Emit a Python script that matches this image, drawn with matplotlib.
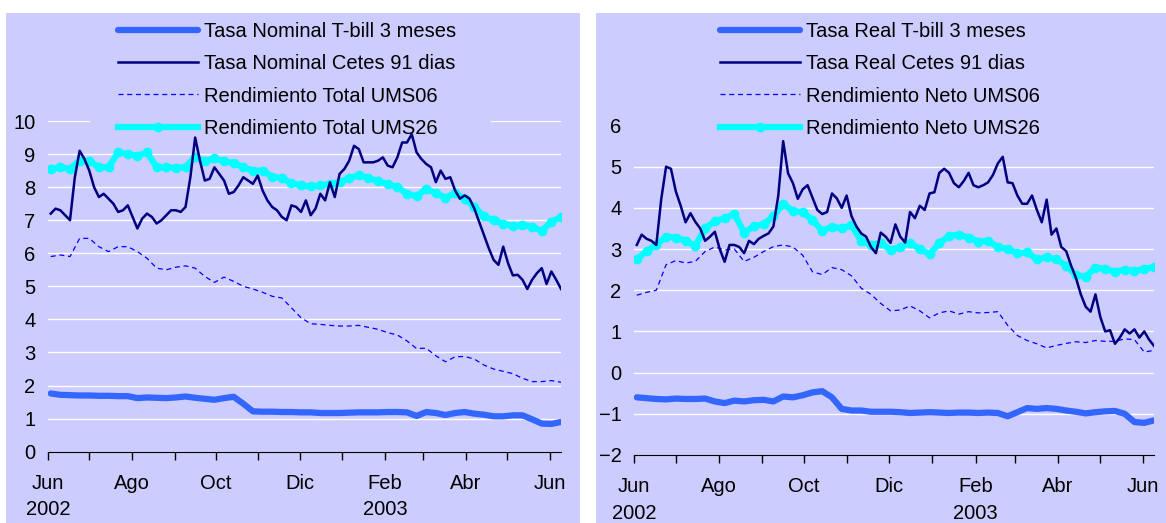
import matplotlib
matplotlib.use("Agg")
import matplotlib.pyplot as plt
import pandas as pd
from matplotlib.patches import Rectangle

plt.rcParams['font.family'] = ['Liberation Sans', 'DejaVu Sans']

# weekly observations, Jun 2002 - Jun 2003
fechas = pd.date_range('2002-06-03', periods=54, freq='7D')
# Cetes series are read twice a week (107 points over the same span)
fechas_cetes = pd.date_range('2002-06-03', '2003-06-09', periods=107)

# left panel: nominal rates
tbill_nom = [1.76, 1.72, 1.71, 1.70, 1.70, 1.69, 1.69, 1.68, 1.68, 1.62,
             1.64, 1.63, 1.62, 1.64, 1.67, 1.63, 1.60, 1.57, 1.62, 1.66,
             1.45, 1.22, 1.21, 1.21, 1.20, 1.20, 1.19, 1.19, 1.17, 1.17,
             1.17, 1.18, 1.19, 1.19, 1.19, 1.20, 1.20, 1.19, 1.08, 1.20,
             1.17, 1.11, 1.17, 1.20, 1.15, 1.12, 1.07, 1.07, 1.10, 1.10,
             0.98, 0.85, 0.84, 0.90]
cetes_nom = [7.20, 7.35, 7.30, 7.15, 7.00, 8.30, 9.10, 8.85, 8.50, 8.00,
             7.70, 7.80, 7.65, 7.50, 7.25, 7.30, 7.45, 7.10, 6.75, 7.05,
             7.20, 7.10, 6.90, 7.00, 7.15, 7.30, 7.30, 7.25, 7.40, 8.30,
             9.50, 8.80, 8.20, 8.25, 8.60, 8.40, 8.20, 7.80, 7.85, 8.05,
             8.30, 8.20, 8.10, 8.35, 7.90, 7.60, 7.40, 7.30, 7.10, 7.00,
             7.45, 7.40, 7.25, 7.60, 7.15, 7.35, 7.80, 7.60, 8.15, 7.70,
             8.40, 8.55, 8.80, 9.25, 9.15, 8.75, 8.75, 8.75, 8.80, 8.90,
             8.65, 8.60, 8.90, 9.35, 9.35, 9.60, 9.05, 8.85, 8.70, 8.60,
             8.15, 8.50, 8.25, 8.30, 7.90, 7.65, 7.75, 7.65, 7.35, 6.95,
             6.55, 6.15, 5.80, 5.65, 6.20, 5.70, 5.33, 5.35, 5.20, 4.92,
             5.20, 5.40, 5.55, 5.07, 5.45, 5.20, 4.92]
ums06_tot = [5.90, 5.95, 5.90, 6.45, 6.45, 6.20, 6.05, 6.20, 6.20, 6.05,
             5.85, 5.55, 5.50, 5.58, 5.62, 5.55, 5.30, 5.12, 5.28, 5.15,
             5.00, 4.92, 4.82, 4.70, 4.65, 4.35, 4.05, 3.87, 3.85, 3.82,
             3.80, 3.80, 3.82, 3.76, 3.70, 3.60, 3.53, 3.35, 3.12, 3.13,
             2.90, 2.72, 2.87, 2.88, 2.80, 2.62, 2.50, 2.43, 2.36, 2.22,
             2.12, 2.12, 2.15, 2.10]
ums26_tot = [8.55, 8.60, 8.55, 8.80, 8.80, 8.60, 8.60, 9.05, 9.00, 8.95,
             9.05, 8.60, 8.60, 8.58, 8.60, 8.92, 8.78, 8.87, 8.78, 8.73,
             8.60, 8.50, 8.50, 8.32, 8.27, 8.12, 8.05, 8.02, 8.05, 8.10,
             8.15, 8.27, 8.36, 8.28, 8.18, 8.10, 8.00, 7.80, 7.72, 7.95,
             7.82, 7.68, 7.82, 7.65, 7.40, 7.12, 7.00, 6.90, 6.82, 6.86,
             6.80, 6.68, 6.95, 7.10]

# right panel: real rates
tbill_real = [-0.60, -0.62, -0.64, -0.65, -0.63, -0.64, -0.64, -0.63, -0.70, -0.74,
              -0.68, -0.70, -0.67, -0.66, -0.70, -0.58, -0.60, -0.55, -0.48, -0.45,
              -0.60, -0.88, -0.92, -0.92, -0.95, -0.95, -0.95, -0.96, -0.98, -0.97,
              -0.96, -0.97, -0.98, -0.97, -0.97, -0.98, -0.97, -0.98, -1.06, -0.96,
              -0.86, -0.88, -0.86, -0.88, -0.92, -0.95, -0.99, -0.96, -0.94, -0.93,
              -1.00, -1.20, -1.22, -1.16]
cetes_real = [3.10, 3.35, 3.25, 3.20, 3.10, 4.20, 5.00, 4.95, 4.40, 4.05,
              3.65, 3.87, 3.66, 3.50, 3.20, 3.30, 3.42, 3.00, 2.69, 3.10,
              3.10, 3.05, 2.90, 3.20, 3.12, 3.25, 3.32, 3.38, 3.55, 4.30,
              5.62, 4.84, 4.60, 4.22, 4.45, 4.55, 4.25, 3.95, 3.85, 3.90,
              4.35, 4.23, 4.00, 4.30, 3.80, 3.55, 3.38, 3.30, 3.05, 2.90,
              3.40, 3.30, 3.15, 3.60, 3.30, 3.16, 3.90, 3.75, 4.05, 3.95,
              4.35, 4.38, 4.85, 4.95, 4.85, 4.60, 4.50, 4.65, 4.85, 4.55,
              4.50, 4.55, 4.62, 4.80, 5.08, 5.24, 4.62, 4.60, 4.30, 4.10,
              4.10, 4.30, 3.95, 3.65, 4.20, 3.35, 3.50, 3.05, 2.95, 2.60,
              2.30, 1.90, 1.60, 1.48, 1.90, 1.35, 1.00, 1.03, 0.70, 0.85,
              1.05, 0.95, 1.05, 0.85, 1.00, 0.80, 0.65]
ums06_neto = [1.88, 1.95, 2.00, 2.62, 2.72, 2.66, 2.70, 2.94, 3.05, 2.98,
              3.00, 2.70, 2.80, 2.94, 3.06, 3.10, 3.05, 2.85, 2.45, 2.38,
              2.55, 2.50, 2.35, 2.05, 1.90, 1.68, 1.50, 1.52, 1.62, 1.50,
              1.33, 1.45, 1.50, 1.42, 1.48, 1.45, 1.46, 1.48, 1.15, 0.90,
              0.78, 0.70, 0.60, 0.66, 0.71, 0.75, 0.73, 0.78, 0.76, 0.76,
              0.82, 0.80, 0.50, 0.54]
ums26_neto = [2.75, 2.95, 3.10, 3.30, 3.28, 3.20, 3.08, 3.50, 3.68, 3.75,
              3.85, 3.40, 3.55, 3.60, 3.80, 4.10, 3.92, 3.90, 3.70, 3.45,
              3.54, 3.50, 3.58, 3.20, 3.10, 3.15, 2.98, 3.05, 3.15, 3.00,
              2.88, 3.14, 3.32, 3.35, 3.28, 3.18, 3.20, 3.05, 3.00, 2.90,
              2.92, 2.75, 2.80, 2.75, 2.60, 2.37, 2.33, 2.55, 2.52, 2.45,
              2.50, 2.47, 2.52, 2.56]

meses = pd.date_range('2002-06-01', '2003-06-01', freq='MS')
etiquetas = ['Jun\n2002', '', 'Ago', '', 'Oct', '', 'Dic', '', 'Feb\n2003', '', 'Abr', '', 'Jun']

fondo = '#CCCCFF'
c_tbill = '#3366FF'
c_cetes = '#000080'
c_ums06 = '#0000FF'
c_ums26 = '#00FFFF'
fs = 14.5

fig = plt.figure(figsize=(11.66, 5.23), dpi=100, facecolor='white')
fig.patches.append(Rectangle((6 / 1166, 0), 574 / 1166, 510 / 523, transform=fig.transFigure,
                             facecolor=fondo, edgecolor='none', zorder=-10))
fig.patches.append(Rectangle((596 / 1166, 0), 570 / 1166, 510 / 523, transform=fig.transFigure,
                             facecolor=fondo, edgecolor='none', zorder=-10))


def panel(rect, series, nombres, ylim, legx, top_grid):
    ax = fig.add_axes(rect)
    ax.set_facecolor(fondo)
    tb, ce, u06, u26 = series
    ax.plot(fechas, tb, color=c_tbill, lw=4.5, solid_capstyle='round', label=nombres[0], zorder=3)
    ax.plot(fechas_cetes, ce, color=c_cetes, lw=1.8, label=nombres[1], zorder=4)
    ax.plot(fechas, u06, color=c_ums06, lw=0.9, dashes=(4, 3), label=nombres[2], zorder=3)
    ax.plot(fechas, u26, color=c_ums26, lw=4.5, marker='o', ms=6, label=nombres[3], zorder=3)

    lo, hi = ylim
    ax.set_ylim(lo, hi)
    ax.set_yticks(range(lo, hi + 1))
    for v in range(lo + 1, hi):
        ax.axhline(v, color='white', lw=1, zorder=1)
    if top_grid:
        # top gridline is hidden behind the legend in the middle
        ax.axhline(hi, xmin=0, xmax=0.08, color='white', lw=1, zorder=1)
        ax.axhline(hi, xmin=0.864, xmax=1, color='white', lw=1, zorder=1)
    ax.tick_params(axis='y', length=0, labelsize=fs, pad=9)

    ax.set_xlim(pd.Timestamp('2002-06-01'), pd.Timestamp('2003-06-09'))
    ax.set_xticks(meses)
    ax.set_xticklabels(etiquetas)
    ax.tick_params(axis='x', direction='out', length=6, width=1, labelsize=fs, pad=10)
    for lab in ax.get_xticklabels():
        lab.set_linespacing(1.5)

    for s in ['top', 'right', 'left']:
        ax.spines[s].set_visible(False)
    ax.spines['bottom'].set_color('black')

    leg = ax.legend(loc='upper center', bbox_to_anchor=(legx, 0.985), bbox_transform=fig.transFigure,
                    frameon=False, fontsize=fs, handlelength=4.0, handletextpad=0.3,
                    labelspacing=0.66, numpoints=1, borderpad=0.2)
    leg.set_zorder(5)
    return ax


panel([48 / 1166, 1 - 451.7 / 523, 513 / 1166, 330.7 / 523],
      (tbill_nom, cetes_nom, ums06_tot, ums26_tot),
      ['Tasa Nominal T-bill 3 meses', 'Tasa Nominal Cetes 91 dias',
       'Rendimiento Total UMS06', 'Rendimiento Total UMS26'],
      (0, 10), 287 / 1166, True)

panel([634 / 1166, 1 - 455 / 523, 520 / 1166, 329.5 / 523],
      (tbill_real, cetes_real, ums06_neto, ums26_neto),
      ['Tasa Real T-bill 3 meses', 'Tasa Real Cetes 91 dias',
       'Rendimiento Neto UMS06', 'Rendimiento Neto UMS26'],
      (-2, 6), 880 / 1166, False)

fig.savefig('out.png', dpi=100, facecolor='white')
